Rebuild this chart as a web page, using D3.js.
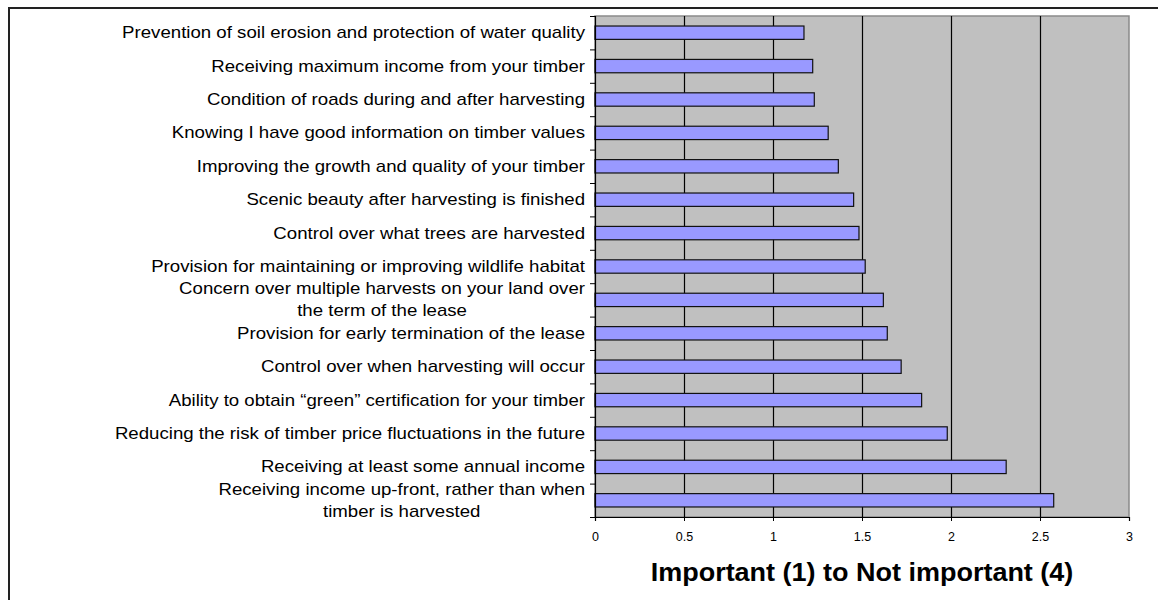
<!DOCTYPE html>
<html>
<head>
<meta charset="utf-8">
<script src="https://cdn.jsdelivr.net/npm/d3@7"></script>
<style>
  body { margin: 0; background: #fff; }
  text { font-family: "Liberation Sans", Arial, sans-serif; fill: #000; }
</style>
</head>
<body>
<svg id="chart" width="1158" height="600"></svg>
<script>
// categories, top to bottom; "\n" marks where the label wraps
const categories = [
  "Prevention of soil erosion and protection of water quality",
  "Receiving maximum income from your timber",
  "Condition of roads during and after harvesting",
  "Knowing I have good information on timber values",
  "Improving the growth and quality of your timber",
  "Scenic beauty after harvesting is finished",
  "Control over what trees are harvested",
  "Provision for maintaining or improving wildlife habitat",
  "Concern over multiple harvests on your land over\nthe term of the lease",
  "Provision for early termination of the lease",
  "Control over when harvesting will occur",
  "Ability to obtain \u201cgreen\u201d certification for your timber",
  "Reducing the risk of timber price fluctuations in the future",
  "Receiving at least some annual income",
  "Receiving income up-front, rather than when\ntimber is harvested",
];
const values = [1.174, 1.223, 1.232, 1.31, 1.367, 1.453, 1.483, 1.518, 1.62, 1.642, 1.72, 1.835, 1.979, 2.31, 2.577];
const xTicks = [0, 0.5, 1, 1.5, 2, 2.5, 3];
const xTitle = "Important (1) to Not important (4)";

const plot = { left: 595, right: 1129, top: 16, bottom: 517 };
// the source text is drawn a little wider than the font's own metrics
const labelStretch = 1.165;
const svg = d3.select("#chart");

// outer chart frame (runs off the right and bottom edges)
svg.append("rect")
  .attr("x", 9).attr("y", 8)
  .attr("width", 1170).attr("height", 620)
  .attr("fill", "#fff")
  .attr("stroke", "#222")
  .attr("stroke-width", 2);

const x = d3.scaleLinear().domain([0, 3]).range([plot.left, plot.right]);
const y = d3.scaleBand()
  .domain(categories)
  .range([plot.top, plot.bottom])
  .paddingInner(0.6)
  .paddingOuter(0.3);

// plot area
svg.append("rect")
  .attr("x", plot.left).attr("y", plot.top)
  .attr("width", plot.right - plot.left)
  .attr("height", plot.bottom - plot.top)
  .attr("fill", "#c0c0c0")
  .attr("stroke", "#8a8a8a")
  .attr("stroke-width", 1.5);

// vertical gridlines
svg.append("g")
  .selectAll("line")
  .data(xTicks.filter((d) => d > 0 && d < 3))
  .enter()
  .append("line")
  .attr("x1", (d) => Math.round(x(d)) + 0.5)
  .attr("x2", (d) => Math.round(x(d)) + 0.5)
  .attr("y1", plot.top)
  .attr("y2", plot.bottom)
  .attr("stroke", "#000")
  .attr("stroke-width", 1.2);

// bars
svg.append("g")
  .selectAll("rect")
  .data(values)
  .enter()
  .append("rect")
  .attr("x", x(0))
  .attr("y", (d, i) => y(categories[i]))
  .attr("width", (d) => x(d) - x(0))
  .attr("height", y.bandwidth())
  .attr("fill", "#9999ff")
  .attr("stroke", "#111")
  .attr("stroke-width", 1.2);

// x axis
const xAxis = svg.append("g")
  .attr("transform", `translate(0, ${plot.bottom})`)
  .call(
    d3.axisBottom(x)
      .tickValues(xTicks)
      .tickFormat((d) => String(d))
      .tickSize(4)
      .tickPadding(11)
  );
xAxis.select(".domain").attr("stroke", "#000").attr("stroke-width", 1.2);
xAxis.selectAll(".tick line").attr("stroke", "#000");
xAxis.selectAll(".tick text")
  .style("font-family", '"Liberation Sans", Arial, sans-serif')
  .style("font-size", "12.5px")
  .attr("fill", "#000");

// y axis: ticks at category boundaries
const yEdges = d3.scaleLinear().domain([0, categories.length]).range([plot.top, plot.bottom]);
const yAxis = svg.append("g")
  .attr("transform", `translate(${plot.left}, 0)`)
  .call(
    d3.axisLeft(yEdges)
      .tickValues(d3.range(categories.length + 1))
      .tickFormat("")
      .tickSize(5)
  );
yAxis.select(".domain").attr("stroke", "#000").attr("stroke-width", 1.2);
yAxis.selectAll(".tick line").attr("stroke", "#000");

// category labels, right aligned block, lines centred inside it
const lineH = 22;
const labelRight = 585;
const labelLayer = svg.append("g")
  .attr("transform", `translate(${labelRight}, 0) scale(${labelStretch}, 1)`);

const labels = labelLayer
  .selectAll("text")
  .data(categories)
  .enter()
  .append("text")
  .style("font-size", "16px")
  .attr("dominant-baseline", "central");

labels.each(function (d) {
  const t = d3.select(this);
  const lines = d.split("\n");
  const cy = y(d) + y.bandwidth() / 2;
  t.attr("text-anchor", "end").attr("x", 0).attr("y", cy);
  if (lines.length === 1) {
    t.text(d);
    return;
  }
  // measure widest line so the shorter ones centre under it
  const widths = lines.map((ln) => {
    const tmp = labelLayer.append("text").style("font-size", "16px").text(ln);
    const w = tmp.node().getComputedTextLength();
    tmp.remove();
    return w;
  });
  const maxW = d3.max(widths);
  t.attr("text-anchor", "middle");
  lines.forEach((ln, i) => {
    t.append("tspan")
      .attr("x", -maxW / 2)
      .attr("y", cy + (i - (lines.length - 1) / 2) * lineH)
      .text(ln);
  });
});

// axis title
svg.append("g")
  .attr("transform", `translate(${(plot.left + plot.right) / 2}, 581) scale(1.08, 1)`)
  .append("text")
  .attr("text-anchor", "middle")
  .style("font-size", "25px")
  .style("font-weight", "bold")
  .text(xTitle);
</script>
</body>
</html>
